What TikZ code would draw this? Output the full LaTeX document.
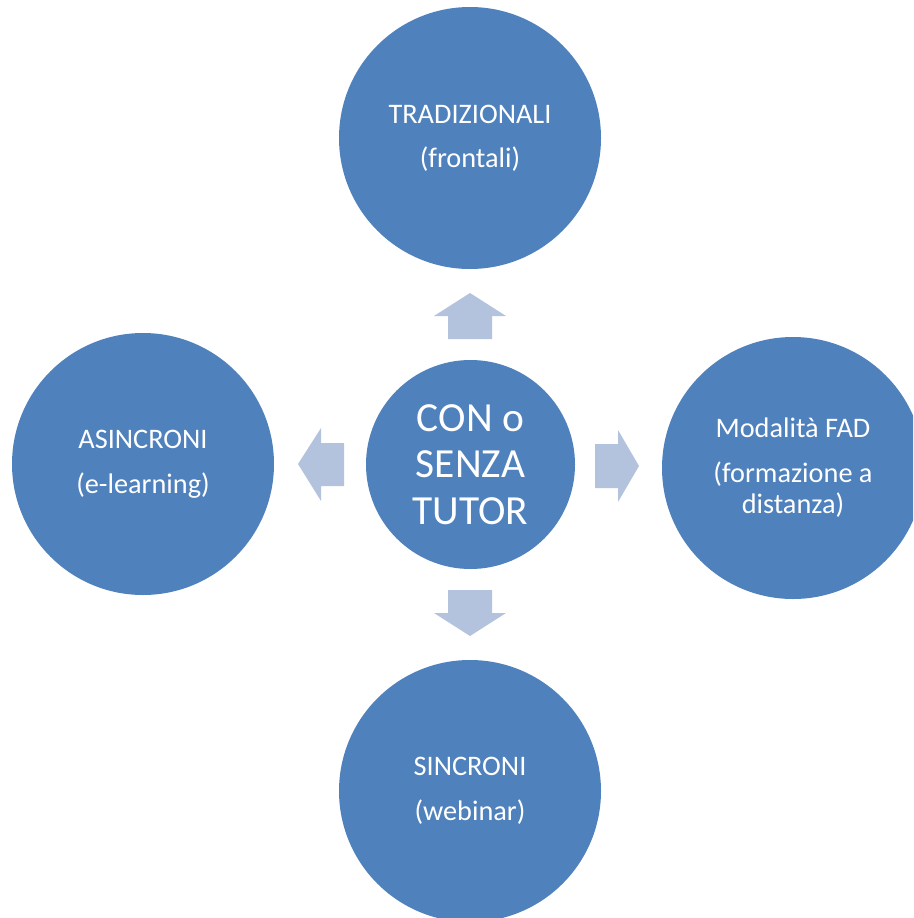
\documentclass[tikz,border=0pt]{standalone}
\usepackage{fontspec}
\setmainfont{Carlito}
\definecolor{circblue}{HTML}{4F81BD}
\definecolor{arrblue}{HTML}{B3C3DE}
\tikzset{
  outer/.style={circle, fill=circblue, minimum size=262pt, inner sep=0pt, text=white, align=center,
    font=\fontsize{28.3}{31}\selectfont},
  inner/.style={circle, fill=circblue, minimum size=209pt, inner sep=0pt, text=white, align=center,
    font=\fontsize{41.4}{46.5}\selectfont},
  blockarrow/.style={fill=arrblue, draw=none}
}
\begin{document}
\begin{tikzpicture}[x=1pt,y=-1pt]
\useasboundingbox (0,0) rectangle (913,918);
\clip (0,0) rectangle (913,918);
\node[outer] (trad) at (470,138) {TRADIZIONALI\\[13pt](frontali)};
\node[outer] (asinc) at (143,464) {ASINCRONI\\[14pt](e-learning)};
\node[outer] (fad) at (793,468) {Modalità FAD\\[14pt](formazione a\\distanza)};
\node[outer] (sinc) at (470,791) {SINCRONI\\[14pt](webinar)};
\node[inner] (tutor) at (470.5,464.5) {CON o\\SENZA\\TUTOR};
% block arrows
\fill[blockarrow] (470,293) -- (506,316) -- (492,316) -- (492,339) -- (448,339) -- (448,316) -- (434,316) -- cycle;
\fill[blockarrow] (298,464) -- (321,428) -- (321,443) -- (344,443) -- (344,486) -- (321,486) -- (321,501) -- cycle;
\fill[blockarrow] (639,466) -- (618,502) -- (618,488) -- (595,488) -- (595,444) -- (618,444) -- (618,430) -- cycle;
\fill[blockarrow] (470,636) -- (506,613) -- (492,613) -- (492,590) -- (448,590) -- (448,613) -- (434,613) -- cycle;
\end{tikzpicture}
\end{document}
